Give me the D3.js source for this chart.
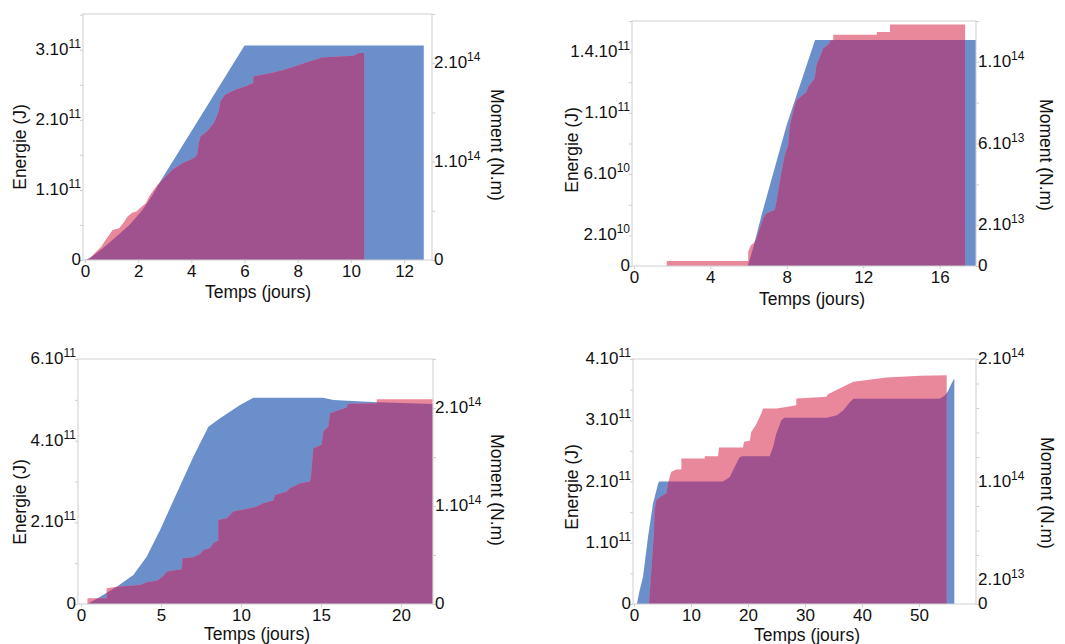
<!DOCTYPE html>
<html><head><meta charset="utf-8">
<script src="https://cdn.jsdelivr.net/npm/d3@7"></script>
<style>
body{margin:0;background:#fff;}
svg{display:block;font-family:"Liberation Sans",Arial,sans-serif;}
</style></head><body>
<svg id="c" width="1065" height="644"></svg>
<script>
// ---------------- DATA ----------------
// Panel 1 (top-left)
const p1Moment = [[0,0],[0.18,0.017e14],[0.67,0.119e14],[1.17,0.237e14],[1.67,0.355e14],[2.16,0.508e14],[2.54,0.66e14],[2.79,0.779e14],[6.0,2.18e14],[12.74,2.18e14],[12.74,0]];
const p1Energy = [[0.05,0],[0.24,0.047e11],[0.42,0.119e11],[0.61,0.19e11],[0.73,0.262e11],[0.86,0.333e11],[1.04,0.429e11],[1.29,0.452e11],[1.48,0.548e11],[1.60,0.619e11],[1.79,0.676e11],[1.92,0.69e11],[2.16,0.771e11],[2.29,0.81e11],[2.41,0.905e11],[2.54,0.976e11],[2.72,1.071e11],[2.91,1.143e11],[3.28,1.286e11],[3.66,1.381e11],[4.09,1.452e11],[4.22,1.5e11],[4.28,1.667e11],[4.34,1.762e11],[4.59,1.833e11],[4.84,1.952e11],[4.90,2.0e11],[5.03,2.119e11],[5.09,2.262e11],[5.27,2.357e11],[5.65,2.429e11],[6.02,2.476e11],[6.33,2.524e11],[6.33,2.619e11],[7.01,2.667e11],[7.39,2.705e11],[7.88,2.762e11],[8.07,2.786e11],[8.52,2.843e11],[8.77,2.867e11],[8.89,2.89e11],[10.1,2.914e11],[10.3,2.953e11],[10.5,2.953e11],[10.5,0]];
const p1XTicks = [0,2,4,6,8,10,12];
const p1LeftTicks = [0,0.5e11,1e11,1.5e11,2e11,2.5e11,3e11,3.5e11];
const p1LeftLabels = [[0,"0"],[1e11,"1.10^11"],[2e11,"2.10^11"],[3e11,"3.10^11"]];
const p1RightTicks = [0,0.5e14,1e14,1.5e14,2e14,2.5e14];
const p1RightLabels = [[0,"0"],[1e14,"1.10^14"],[2e14,"2.10^14"]];

// Panel 2 (top-right)
const p2Moment = [[5.95,0],[6.24,0.865e13],[6.68,2.50e13],[7.99,6.90e13],[8.43,8.13e13],[9.48,11.07e13],[17.9,11.07e13],[17.9,0]];
const p2Energy = [[1.72,0],[1.72,0.33e10],[5.98,0.33e10],[5.98,0.93e10],[6.13,1.37e10],[6.28,1.5e10],[6.42,1.81e10],[6.76,3.11e10],[6.94,3.44e10],[7.37,3.65e10],[7.46,4.19e10],[7.63,5.5e10],[7.89,7.24e10],[8.07,7.89e10],[8.16,9.2e10],[8.42,10.5e10],[8.51,10.83e10],[9.03,11.37e10],[9.12,11.7e10],[9.46,12.24e10],[9.55,13.11e10],[9.81,13.87e10],[9.90,14.2e10],[10.2,14.5e10],[10.3,14.74e10],[10.43,14.74e10],[10.43,15.11e10],[12.71,15.11e10],[12.71,15.28e10],[13.40,15.28e10],[13.40,15.77e10],[17.33,15.77e10],[17.33,0]];
const p2XTicks = [0,4,8,12,16];
const p2LeftTicks = [0,2e10,4e10,6e10,8e10,10e10,12e10,14e10,16e10];
const p2LeftLabels = [[0,"0"],[2e10,"2.10^10"],[6e10,"6.10^10"],[10e10,"1.10^11"],[14e10,"1.4.10^11"]];
const p2RightTicks = [0,2e13,4e13,6e13,8e13,10e13,12e13];
const p2RightLabels = [[0,"0"],[2e13,"2.10^13"],[6e13,"6.10^13"],[10e13,"1.10^14"]];

// Panel 3 (bottom-left)
const p3Moment = [[0.4,0],[1.19,0.075e14],[2.23,0.177e14],[3.27,0.296e14],[4.1,0.483e14],[4.94,0.755e14],[5.98,1.13e14],[7.02,1.503e14],[7.96,1.809e14],[8.69,1.895e14],[9.94,2.031e14],[10.77,2.105e14],[15.14,2.105e14],[15.77,2.082e14],[18.48,2.058e14],[21.98,2.041e14],[21.98,0]];
const p3Energy = [[0.4,0],[0.4,0.139e11],[1.6,0.139e11],[1.6,0.384e11],[2.23,0.425e11],[3.69,0.466e11],[4.1,0.531e11],[4.73,0.572e11],[5.15,0.686e11],[5.36,0.793e11],[6.29,0.85e11],[6.35,1.12e11],[7.02,1.144e11],[7.44,1.225e11],[7.65,1.324e11],[8.06,1.364e11],[8.27,1.487e11],[8.58,1.553e11],[8.58,2.059e11],[9.1,2.1e11],[9.52,2.263e11],[10.56,2.345e11],[10.98,2.386e11],[11.39,2.467e11],[12.02,2.533e11],[12.13,2.672e11],[12.86,2.753e11],[13.06,2.835e11],[13.69,2.958e11],[14.31,2.998e11],[14.38,3.162e11],[14.52,3.815e11],[15.04,3.897e11],[15.15,4.223e11],[15.46,4.346e11],[15.56,4.673e11],[16.6,4.812e11],[16.71,4.902e11],[18.48,4.918e11],[18.48,5.016e11],[21.98,5.016e11],[21.98,0]];
const p3XTicks = [0,5,10,15,20];
const p3LeftTicks = [0,1e11,2e11,3e11,4e11,5e11,6e11];
const p3LeftLabels = [[0,"0"],[2e11,"2.10^11"],[4e11,"4.10^11"],[6e11,"6.10^11"]];
const p3RightTicks = [0,0.5e14,1e14,1.5e14,2e14,2.5e14];
const p3RightLabels = [[0,"0"],[1e14,"1.10^14"],[2e14,"2.10^14"]];

// Panel 4 (bottom-right)
const p4Moment = [[0.35,0],[0.53,0.006e14],[1.0,0.114e14],[1.58,0.222e14],[2.46,0.548e14],[3.33,0.82e14],[3.63,0.874e14],[4.21,0.98e14],[4.4,1.0e14],[15.6,1.0e14],[16.8,1.037e14],[17.66,1.119e14],[18.5,1.195e14],[19.0,1.206e14],[23.8,1.206e14],[24.4,1.282e14],[24.97,1.391e14],[25.85,1.5e14],[26.4,1.52e14],[33.8,1.52e14],[35.6,1.54e14],[36.7,1.58e14],[37.9,1.649e14],[38.5,1.676e14],[53.6,1.676e14],[54.5,1.70e14],[55.0,1.73e14],[55.6,1.79e14],[56.1,1.834e14],[56.2,1.834e14],[56.2,0]];
const p4Energy = [[2.63,0],[3.04,0.555e11],[3.45,1.098e11],[3.63,1.533e11],[3.92,1.697e11],[5.09,1.778e11],[5.67,1.806e11],[5.96,1.969e11],[6.26,2.077e11],[6.55,2.158e11],[7.43,2.197e11],[8.3,2.197e11],[8.3,2.377e11],[12.4,2.377e11],[12.4,2.414e11],[14.74,2.414e11],[14.91,2.556e11],[19.12,2.556e11],[19.3,2.648e11],[20.3,2.664e11],[20.58,2.811e11],[21.35,2.92e11],[22.33,3.111e11],[22.63,3.192e11],[24.97,3.192e11],[26.14,3.209e11],[28.47,3.246e11],[28.47,3.356e11],[31.7,3.372e11],[33.74,3.382e11],[34.04,3.426e11],[35.6,3.5e11],[38.5,3.627e11],[44.3,3.698e11],[50.2,3.725e11],[54.86,3.736e11],[54.86,0]];
const p4XTicks = [0,10,20,30,40,50];
const p4LeftTicks = [0,0.5e11,1e11,1.5e11,2e11,2.5e11,3e11,3.5e11,4e11];
const p4LeftLabels = [[0,"0"],[1e11,"1.10^11"],[2e11,"2.10^11"],[3e11,"3.10^11"],[4e11,"4.10^11"]];
const p4RightTicks = [0,0.2e14,0.4e14,0.6e14,0.8e14,1e14,1.2e14,1.4e14,1.6e14,1.8e14,2e14];
const p4RightLabels = [[0,"0"],[0.2e14,"2.10^13"],[1e14,"1.10^14"],[2e14,"2.10^14"]];

const xTitle = "Temps (jours)";
const leftTitle = "Energie (J)";
const rightTitle = "Moment (N.m)";

// ---------------- LAYOUT ----------------
const panels = [
  {moment:p1Moment, energy:p1Energy, xTicks:p1XTicks, lT:p1LeftTicks, lL:p1LeftLabels, rT:p1RightTicks, rL:p1RightLabels,
   f:{x0:83,x1:432,y0:14,y1:260}, xd:[-0.075,13.05], ld:[0,3.51e11], rd:[0,2.5e14],
   titles:{ex:20,ey:147, mx:497,my:145, tx:258,ty:298}},
  {moment:p2Moment, energy:p2Energy, xTicks:p2XTicks, lT:p2LeftTicks, lL:p2LeftLabels, rT:p2RightTicks, rL:p2RightLabels,
   f:{x0:632,x1:976,y0:21,y1:266}, xd:[-0.1,17.9], ld:[0,1.6e11], rd:[0,1.2e14],
   titles:{ex:572,ey:150, mx:1046,my:155, tx:812,ty:305}},
  {moment:p3Moment, energy:p3Energy, xTicks:p3XTicks, lT:p3LeftTicks, lL:p3LeftLabels, rT:p3RightTicks, rL:p3RightLabels,
   f:{x0:78,x1:433,y0:359,y1:604}, xd:[-0.19,22.0], ld:[0,6e11], rd:[0,2.5e14],
   titles:{ex:20,ey:502, mx:497,my:490, tx:257,ty:640}},
  {moment:p4Moment, energy:p4Energy, xTicks:p4XTicks, lT:p4LeftTicks, lL:p4LeftLabels, rT:p4RightTicks, rL:p4RightLabels,
   f:{x0:633,x1:976,y0:359,y1:604}, xd:[-0.18,60.0], ld:[0,4e11], rd:[0,2e14],
   titles:{ex:572,ey:487, mx:1047,my:493, tx:807,ty:641}}
];

const BLUE = "#6a8fcb", PINK = "#e9879b", PURPLE = "#a0528f";
const FRAME = "#cfcfcf", TEXT = "#111";
const svg = d3.select("#c");
const defs = svg.append("defs");

function addLabel(g, x, y, label, anchor) {
  const parts = label.split("^");
  const t = g.append("text").attr("x", x).attr("y", y).attr("text-anchor", anchor)
    .attr("font-size", 17).attr("fill", TEXT);
  t.append("tspan").text(parts[0]);
  if (parts[1]) t.append("tspan").attr("dy", -7).attr("font-size", 12).text(parts[1]);
}

panels.forEach((p, i) => {
  const f = p.f;
  const x = d3.scaleLinear().domain(p.xd).range([f.x0, f.x1]);
  const yL = d3.scaleLinear().domain(p.ld).range([f.y1, f.y0]);
  const yR = d3.scaleLinear().domain(p.rd).range([f.y1, f.y0]);
  const areaB = d3.area().x(d => x(d[0])).y0(yR(0)).y1(d => yR(d[1]));
  const areaP = d3.area().x(d => x(d[0])).y0(yL(0)).y1(d => yL(d[1]));
  const g = svg.append("g");

  defs.append("clipPath").attr("id", "clipB" + i).append("path").attr("d", areaB(p.moment));

  g.append("path").attr("d", areaB(p.moment)).attr("fill", BLUE);
  g.append("path").attr("d", areaP(p.energy)).attr("fill", PINK);
  g.append("path").attr("d", areaP(p.energy)).attr("fill", PURPLE).attr("clip-path", `url(#clipB${i})`);

  g.append("rect").attr("x", f.x0).attr("y", f.y0).attr("width", f.x1 - f.x0).attr("height", f.y1 - f.y0)
    .attr("fill", "none").attr("stroke", FRAME).attr("stroke-width", 1);

  const ax = g.append("g").attr("transform", `translate(0,${f.y1})`)
    .call(d3.axisBottom(x).tickValues(p.xTicks).tickSize(3).tickPadding(2).tickFormat(d3.format("d")));
  ax.select(".domain").remove();
  ax.selectAll("line").attr("stroke", FRAME);
  ax.selectAll("text").attr("font-size", 17).attr("fill", TEXT).attr("font-family", "Liberation Sans, Arial, sans-serif");

  const al = g.append("g").attr("transform", `translate(${f.x0},0)`)
    .call(d3.axisLeft(yL).tickValues(p.lT).tickSize(3).tickFormat(""));
  al.select(".domain").remove();
  al.selectAll("line").attr("stroke", FRAME);

  const ar = g.append("g").attr("transform", `translate(${f.x1},0)`)
    .call(d3.axisRight(yR).tickValues(p.rT).tickSize(3).tickFormat(""));
  ar.select(".domain").remove();
  ar.selectAll("line").attr("stroke", FRAME);

  p.lL.forEach(([v, lab]) => addLabel(g, f.x0 - 2, yL(v) + 5, lab, "end"));
  p.rL.forEach(([v, lab]) => addLabel(g, f.x1 + 2, yR(v) + 5, lab, "start"));

  const t = p.titles;
  g.append("text").attr("transform", `translate(${t.ex},${t.ey}) rotate(-90)`)
    .attr("text-anchor", "middle").attr("dominant-baseline", "central")
    .attr("font-size", 17.5).attr("fill", TEXT).text(leftTitle);
  g.append("text").attr("transform", `translate(${t.mx},${t.my}) rotate(90)`)
    .attr("text-anchor", "middle").attr("dominant-baseline", "central")
    .attr("font-size", 17.5).attr("fill", TEXT).text(rightTitle);
  g.append("text").attr("x", t.tx).attr("y", t.ty).attr("text-anchor", "middle")
    .attr("font-size", 17.5).attr("fill", TEXT).text(xTitle);
});
</script>
</body></html>
